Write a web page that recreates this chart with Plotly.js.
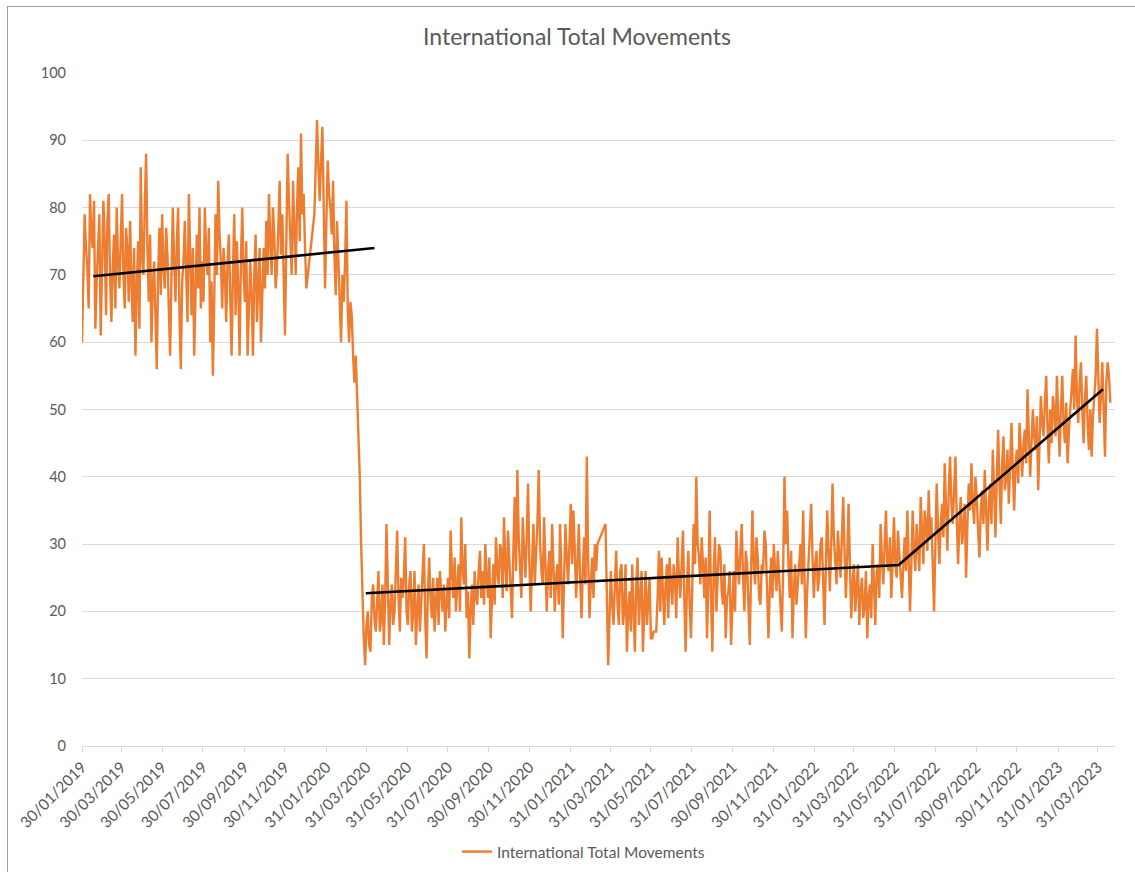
<!DOCTYPE html>
<html><head><meta charset="utf-8">
<script src="https://cdn.plot.ly/plotly-3.0.1.min.js"></script>
<style>
html,body{margin:0;padding:0;background:#fff;}
#chart{width:1135px;height:872px;}
#frame{position:absolute;left:7px;top:6px;width:1128px;height:866px;border-left:1px solid #a0a0a0;border-top:1px solid #a0a0a0;pointer-events:none;}
</style>
</head><body>
<div id="chart"></div><div id="frame"></div>
<script>
// Readings every 4 days from 30/01/2019 (movements) and the readings 2 days later (movementsMid).
// null = no data (the line is bridged straight across, as in the reference).
const startDate = '2019-01-30';
const stepDays = 4;
const midOffsetDays = 2;
const movements = [
  60,79,71,82,74,62,73,61,81,64,82,63,76,80,68,
  82,65,74,78,63,58,75,86,70,88,66,60,72,56,77,
  79,68,73,58,80,66,80,56,72,70,82,64,58,76,80,
  72,80,70,60,55,79,84,72,74,63,76,58,79,75,58,
  80,66,58,72,58,76,68,60,74,78,82,70,76,71,84,
  79,61,88,76,84,70,86,91,82,68,null,null,79,93,81,
  92,68,87,80,84,67,72,60,66,81,60,64,54,52,40,
  22,12,20,14,24,17,26,19,15,33,15,24,20,32,17,
  22,31,18,26,20,15,24,21,30,13,28,19,17,25,26,
  20,17,25,32,22,20,27,34,24,19,13,24,26,21,29,
  26,30,22,16,27,31,24,29,34,23,28,19,37,41,27,
  34,25,39,20,33,28,41,26,34,20,29,33,20,27,33,
  16,33,24,36,35,22,33,19,31,43,19,28,30,30,null,null,33,12,
  26,18,29,18,27,20,14,23,27,14,28,22,14,26,21,
  16,17,17,29,28,18,27,28,21,25,31,22,32,14,29,
  16,33,40,28,31,22,16,35,14,31,25,29,21,16,23,
  15,26,32,24,33,20,27,15,35,24,28,21,26,30,16,
  28,30,23,25,17,40,35,22,16,27,24,30,35,16,27,
  36,22,29,25,31,18,35,23,39,28,32,25,37,22,36,
  19,27,23,18,25,21,16,24,30,18,27,33,24,35,26,
  22,34,25,29,22,31,35,20,35,26,30,37,27,33,38,
  34,20,39,27,36,42,29,43,33,43,27,37,32,25,39,
  42,33,37,28,38,41,29,39,44,31,47,33,46,40,36,
  48,35,44,48,40,47,53,40,50,44,38,52,46,55,42,
  45,50,55,43,55,45,42,50,56,61,48,57,45,55,44,
  43,52,62,48,57,43,57,51
];
const movementsMid = [
  72,74,65,76,81,69,79,70,75,78,70,71,65,72,75,
  70,77,66,69,74,68,62,73,80,74,76,68,64,70,67,
  71,77,65,70,72,75,64,69,78,63,71,74,67,68,65,
  66,73,77,69,66,70,76,65,70,72,67,70,64,68,72,
  70,75,65,67,70,63,74,67,68,70,75,80,68,77,73,
  70,75,81,70,77,80,75,79,74,null,null,null,88,86,87,
  80,78,82,76,73,78,66,70,72,65,66,58,58,46,30,
  16,18,15,22,19,22,17,24,22,24,21,18,26,22,25,
  25,20,24,17,26,20,17,26,19,23,22,25,21,18,23,
  24,21,19,26,28,24,20,26,30,23,20,18,22,26,22,
  21,25,28,22,21,26,30,22,27,32,24,29,26,31,22,
  28,31,27,27,24,33,30,24,27,26,22,27,25,21,25,
  25,28,30,27,29,27,25,26,24,28,24,22,26,null,null,null,24,19,
  21,24,21,26,18,27,20,17,20,24,18,26,21,18,25,
  16,17,22,20,23,24,19,24,27,19,25,27,22,24,21,
  24,27,30,24,27,28,24,22,26,20,30,23,27,22,26,
  22,20,27,29,25,29,21,26,27,31,22,27,32,23,23,
  22,26,29,21,26,30,27,29,23,21,28,24,25,23,30,
  28,27,23,30,24,27,29,30,31,24,29,31,29,28,27,
  24,20,27,23,19,26,22,19,24,26,22,28,30,27,31,
  28,27,32,25,27,26,28,27,29,33,26,31,35,29,31,
  27,30,32,33,31,35,38,36,38,34,33,30,36,33,35,
  36,40,32,35,33,35,36,33,38,40,39,42,38,44,42,
  41,42,39,44,45,42,46,45,46,49,45,48,51,47,50,
  52,46,49,50,48,51,47,53,50,52,54,50,52,48,50,
  49,55,53,52,50,54,55
];
const trendDates1 = ['2019-02-16','2020-04-12'];
const trendValues1 = [69.8, 74.0];
const trendDates2 = ['2020-03-30','2022-06-06','2023-04-08'];
const trendValues2 = [22.7, 26.9, 53.0];
const tickDates = ['2019-01-30','2019-03-30','2019-05-30','2019-07-30','2019-09-30','2019-11-30',
  '2020-01-31','2020-03-31','2020-05-31','2020-07-31','2020-09-30','2020-11-30',
  '2021-01-31','2021-03-31','2021-05-31','2021-07-31','2021-09-30','2021-11-30',
  '2022-01-31','2022-03-31','2022-05-31','2022-07-31','2022-09-30','2022-11-30',
  '2023-01-31','2023-03-31'];
const tickLabels = ['30/01/2019','30/03/2019','30/05/2019','30/07/2019','30/09/2019','30/11/2019',
  '31/01/2020','31/03/2020','31/05/2020','31/07/2020','30/09/2020','30/11/2020',
  '31/01/2021','31/03/2021','31/05/2021','31/07/2021','30/09/2021','30/11/2021',
  '31/01/2022','31/03/2022','31/05/2022','31/07/2022','30/09/2022','30/11/2022',
  '31/01/2023','31/03/2023'];
const seriesName = 'International Total Movements';

function dayString(offset) {
  const d = new Date(startDate + 'T00:00:00Z');
  d.setUTCDate(d.getUTCDate() + offset);
  return d.toISOString().slice(0, 10);
}
const xs = [], ys = [];
movements.forEach((v, i) => {
  xs.push(dayString(i * stepDays)); ys.push(v);
  if (i < movementsMid.length) {
    xs.push(dayString(i * stepDays + midOffsetDays)); ys.push(movementsMid[i]);
  }
});

const traces = [
  {x: xs, y: ys, type: 'scatter', mode: 'lines', name: seriesName,
   connectgaps: true, line: {color: '#ED7D31', width: 2.4}},
  {x: trendDates1, y: trendValues1, type: 'scatter', mode: 'lines', showlegend: false,
   line: {color: '#000000', width: 2.6}},
  {x: trendDates2, y: trendValues2, type: 'scatter', mode: 'lines', showlegend: false,
   line: {color: '#000000', width: 2.6}}
];

const layout = {
  width: 1135, height: 872,
  margin: {l: 82, r: 20, t: 73, b: 126},
  paper_bgcolor: '#ffffff', plot_bgcolor: '#ffffff',
  font: {family: 'Lato, "Open Sans", sans-serif', color: '#595959', size: 14},
  title: {text: 'International Total Movements', font: {size: 23, color: '#595959'},
    xref: 'container', x: 577/1135, xanchor: 'center',
    yref: 'container', y: 1 - 37/872, yanchor: 'middle'},
  xaxis: {type: 'date', range: ['2019-01-30', '2023-04-26'],
    tickmode: 'array', tickvals: tickDates, ticktext: tickLabels, tickangle: -45,
    ticks: 'outside', ticklen: 5, tickcolor: '#d9d9d9',
    showgrid: false, showline: true, linecolor: '#d9d9d9', linewidth: 1, zeroline: false,
    tickfont: {size: 15.5, color: '#595959'}},
  yaxis: {range: [0, 100], dtick: 10, tick0: 0,
    showgrid: true, gridcolor: '#d9d9d9', gridwidth: 1, zeroline: false, showline: false,
    ticks: '', ticklabelstandoff: 15, tickfont: {size: 14.5, color: '#595959'}},
  showlegend: true,
  legend: {orientation: 'h', xref: 'container', yref: 'container',
    x: 457/1135, xanchor: 'left', y: 1 - 852/872, yanchor: 'middle',
    font: {size: 15.5, color: '#595959'}}
};

Plotly.newPlot('chart', traces, layout, {displayModeBar: false, staticPlot: true});
</script>
</body></html>
